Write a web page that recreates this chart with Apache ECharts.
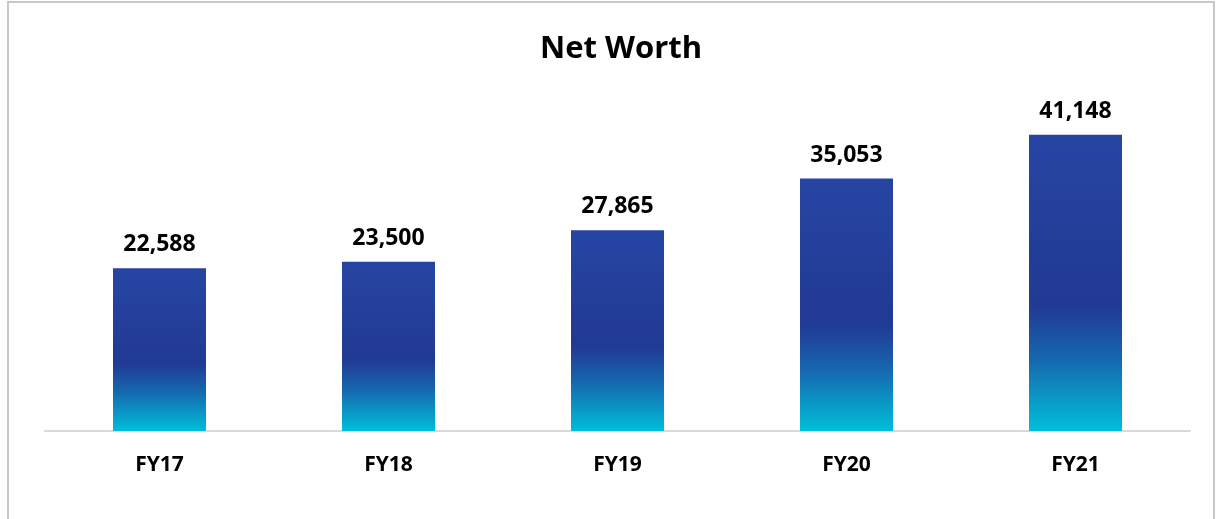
<!DOCTYPE html>
<html>
<head>
<meta charset="utf-8">
<script src="https://cdn.jsdelivr.net/npm/echarts@6.0.0/dist/echarts.min.js"></script>
<style>
  html, body { margin: 0; padding: 0; background: #fff; }
  #chart { width: 1217px; height: 519px; }
</style>
</head>
<body>
<div id="chart"></div>
<script>
const categories = ['FY17', 'FY18', 'FY19', 'FY20', 'FY21'];
const netWorth = [22588, 23500, 27865, 35053, 41148];

const chart = echarts.init(document.getElementById('chart'));

// bar fill: blue on top, fading into cyan near the base
const barFill = new echarts.graphic.LinearGradient(0, 0, 0, 1, [
    { offset: 0, color: '#2645a3' },
    { offset: 0.58, color: '#213a93' },
    { offset: 0.75, color: '#1665ad' },
    { offset: 1, color: '#00bfd9' }
]);

const fontFam = '"Open Sans", sans-serif';

chart.setOption({
    animation: false,
    backgroundColor: '#fff',
    title: {
        text: 'Net Worth',
        left: 616,
        top: 29,
        textAlign: 'center',
        textStyle: { fontFamily: fontFam, fontWeight: 'bold', fontSize: 31, color: '#000' }
    },
    graphic: [{
        type: 'rect',
        shape: { x: 8, y: 2, width: 1206, height: 540 },
        style: { fill: 'none', stroke: '#c8c8c8', lineWidth: 2 },
        silent: true
    }],
    grid: { left: 45, right: 27, top: 71, bottom: 88 },
    xAxis: {
        type: 'category',
        data: categories,
        axisLine: { lineStyle: { color: '#d9d9d9', width: 2 } },
        axisTick: { show: false },
        axisLabel: {
            margin: 24,
            fontFamily: fontFam,
            fontWeight: 'bold',
            fontSize: 21,
            color: '#000'
        }
    },
    yAxis: {
        type: 'value',
        min: 0,
        max: 50000,
        show: false,
        splitLine: { show: false }
    },
    series: [{
        type: 'bar',
        data: netWorth,
        barWidth: 93,
        itemStyle: { color: barFill },
        label: {
            show: true,
            position: 'top',
            distance: 12,
            fontFamily: fontFam,
            fontWeight: 'bold',
            fontSize: 23,
            color: '#000',
            formatter: p => p.value.toLocaleString('en-US')
        }
    }]
});
</script>
</body>
</html>
